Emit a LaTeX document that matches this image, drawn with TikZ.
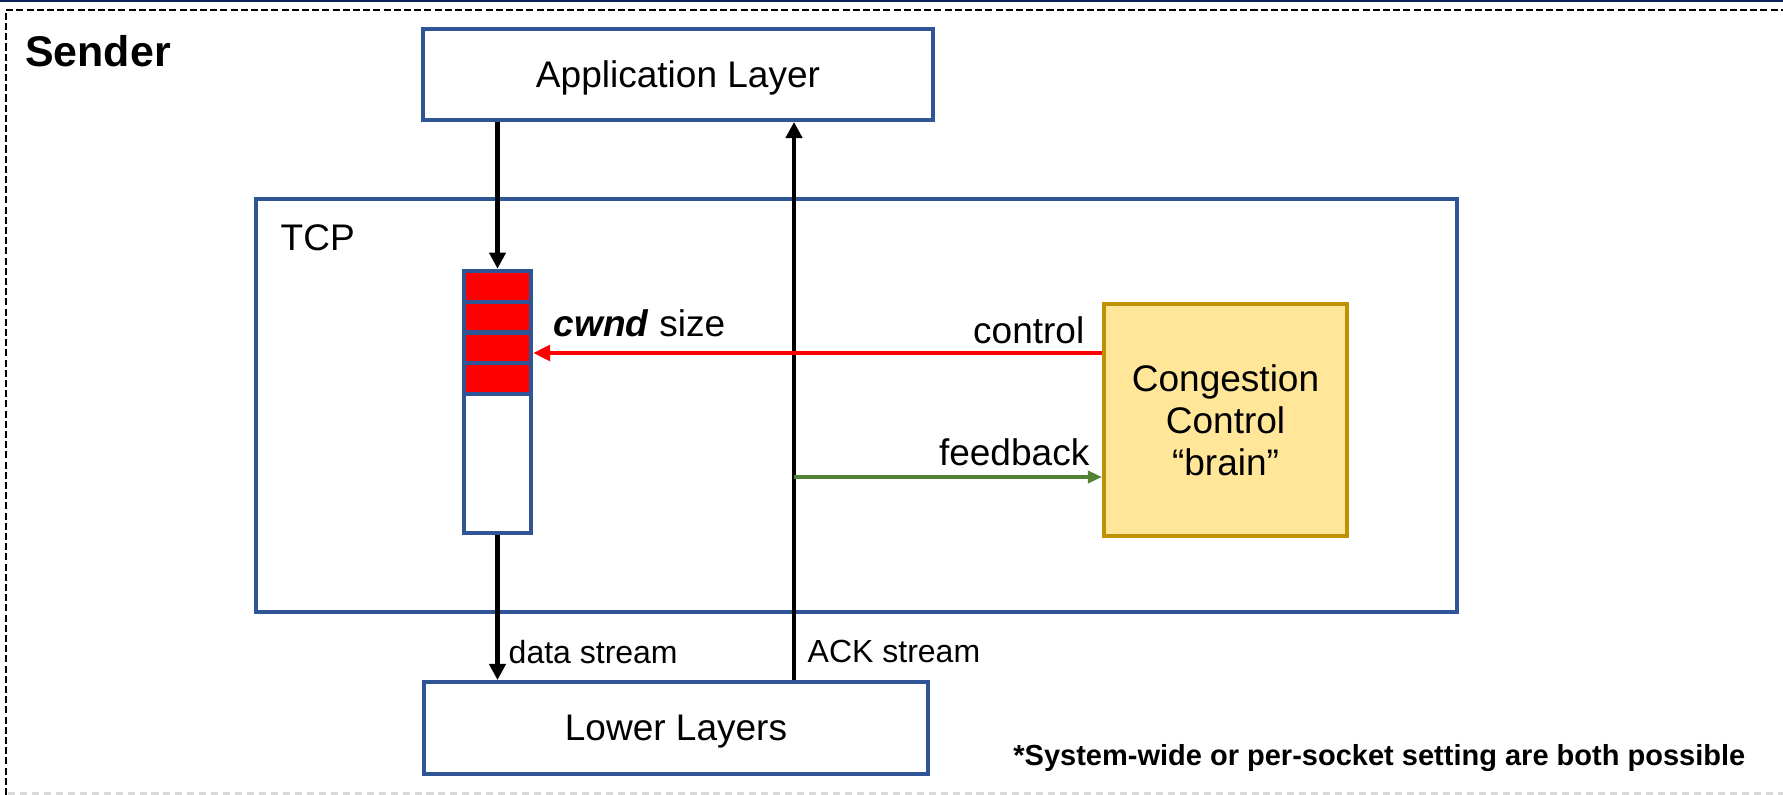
\documentclass[tikz,border=0pt]{standalone}
\usepackage{fontspec}
\setmainfont{Liberation Sans}
\usetikzlibrary{arrows.meta}

\definecolor{boxblue}{HTML}{2F5597}
\definecolor{topnavy}{HTML}{0B2456}
\definecolor{ccfill}{HTML}{FFE699}
\definecolor{ccedge}{HTML}{BF9000}
\definecolor{fbgreen}{HTML}{548235}
\definecolor{cellred}{HTML}{FF0000}
\definecolor{dashgrey}{HTML}{D9D9D9}

\begin{document}
\begin{tikzpicture}[x=0.01cm,y=-0.01cm,
  mainfont/.style={font=\fontsize{10.53pt}{11.95pt}\selectfont},
  smallfont/.style={font=\fontsize{9.1pt}{10.5pt}\selectfont},
  layerbox/.style={draw=boxblue, line width=1.1pt, fill=white, inner sep=0pt, mainfont},
  brainbox/.style={draw=ccedge, line width=1.1pt, fill=ccfill, inner sep=0pt, align=center, mainfont},
  cell/.style={draw=boxblue, line width=1.25pt, fill=cellred},
  flow/.style={line width=1.2pt, -{Triangle[length=4.6pt,width=4.6pt]}},
  ctrlflow/.style={cellred, line width=1.2pt, -{Triangle[length=4.8pt,width=4.4pt]}},
  fbflow/.style={fbgreen, line width=1.0pt, -{Triangle[length=4pt,width=3.4pt]}},
  lbl/.style={inner sep=0pt, mainfont},
  smalllbl/.style={inner sep=0pt, smallfont}
]
\useasboundingbox (0,0) rectangle (1783,795);

% frame of the sender area
\fill[topnavy] (0,0) rectangle (1783,2);
\draw[line width=0.8pt, dash pattern=on 2pt off 0.9pt] (6,795) -- (6,10) -- (1783,10);
\draw[dashgrey, line width=0.6pt, dash pattern=on 2pt off 1.4pt] (8,793.5) -- (1783,793.5);
\node[inner sep=0pt, font=\fontsize{12.2pt}{14pt}\selectfont\bfseries] (sender) at (98,51) {Sender};

% protocol layers
\node[layerbox, minimum width=12.01cm, minimum height=4.13cm] (tcp) at (856.5,405.5) {};
\node[lbl, anchor=west] (tcplabel) at (280,238) {TCP};
\node[layerbox, text depth=0pt, minimum width=5.10cm, minimum height=0.91cm] (app) at (678,74.5) {Application Layer};
\node[layerbox, text depth=0pt, minimum width=5.04cm, minimum height=0.92cm] (lower) at (676,728) {Lower Layers};

% send buffer with the cwnd-sized part in red
\node[layerbox, line width=1.25pt, minimum width=0.67cm, minimum height=2.62cm] (buf) at (497.5,402) {};
\foreach \i in {0,1,2,3}
  \draw[cell] (464,{271+30.75*\i}) rectangle (531,{271+30.75*(\i+1)});

% congestion control module
\node[brainbox, minimum width=2.43cm, minimum height=2.32cm] (cc) at (1225.5,420)
  {Congestion\\Control\\``brain''};

% helper coordinates for the straight connectors
\coordinate (ackx) at (794,0);
\coordinate (ctrly) at (0,353);
\coordinate (fby) at (0,477);

% data and ACK flows
\draw[flow] (buf.north |- app.south) -- (buf.north);
\draw[flow] (buf.south) -- (buf.south |- lower.north);
\draw[flow] (lower.north -| ackx) -- (app.south -| ackx);

% control loop
\draw[ctrlflow] (cc.west |- ctrly) -- (buf.east |- ctrly);
\draw[fbflow] (ackx |- fby) -- (cc.west |- fby);

% labels
\node[lbl, anchor=west] (cwndlabel) at (553,323) {\textbf{\textit{cwnd}} size};
\node[lbl, anchor=east] (ctrllabel) at (1085,330) {control};
\node[lbl, anchor=east] (fblabel) at (1090,452) {feedback};
\node[smalllbl, anchor=west] (datalabel) at (508,652) {data stream};
\node[smalllbl, anchor=west] (acklabel) at (807,651) {ACK stream};
\node[inner sep=0pt, anchor=east, font=\fontsize{8.25pt}{10pt}\selectfont\bfseries] (note) at (1746,758)
  {*System-wide or per-socket setting are both possible};
\end{tikzpicture}
\end{document}
